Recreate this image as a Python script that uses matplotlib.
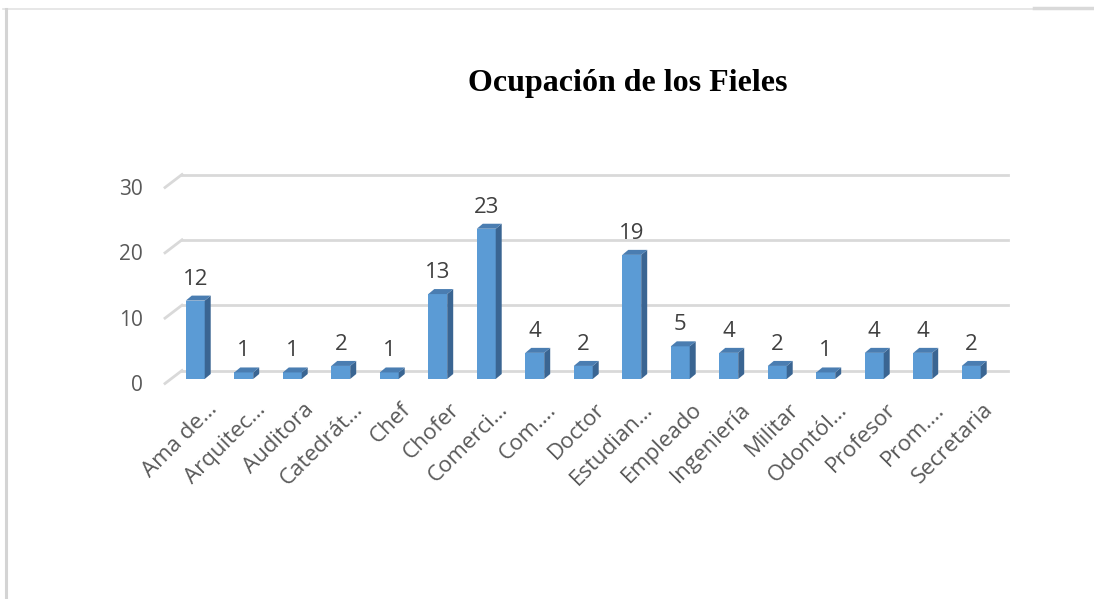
import matplotlib
matplotlib.use("Agg")
import matplotlib.pyplot as plt
from matplotlib.patches import Polygon
from matplotlib.lines import Line2D
from matplotlib.transforms import IdentityTransform

categories = ["Ama de…", "Arquitec…", "Auditora", "Catedrát…", "Chef", "Chofer",
              "Comerci…", "Com….", "Doctor", "Estudian…", "Empleado", "Ingeniería",
              "Militar", "Odontól…", "Profesor", "Prom….", "Secretaria"]
values = [12, 1, 1, 2, 1, 13, 23, 4, 2, 19, 5, 4, 2, 1, 4, 4, 2]
yticks = [0, 10, 20, 30]
title = "Ocupación de los Fieles"

W, H = 1094, 599
fig = plt.figure(figsize=(W / 100, H / 100), dpi=100)
fig.patch.set_facecolor("white")

left_px, right_px = 171, 995.5
bottom_px, top_px = 379, 183
ax = fig.add_axes([left_px / W, (H - bottom_px) / H, (right_px - left_px) / W,
                   (bottom_px - top_px) / H])
ax.set_xlim(-0.5, len(categories) - 0.5)
ax.set_ylim(0, 30)
ax.axis("off")

ID = IdentityTransform()
def disp(x, y):
    return ax.transData.transform((x, y))

# outer frame lines
fig.add_artist(Line2D([3, W], [H - 9, H - 9], transform=ID, color="#E3E3E3", lw=1.2))
fig.add_artist(Line2D([6, 6], [0, H - 9], transform=ID, color="#D4D4D4", lw=2.2))
fig.add_artist(Line2D([1034, W], [H - 7.5, H - 7.5], transform=ID, color="#D9D9D9", lw=2.5))

grid_c = "#D9D9D9"
label_c = "#595959"
x0 = disp(-0.5, 0)[0]
x1 = disp(len(categories) - 0.5, 0)[0]
for v in yticks:
    yf = disp(0, v)[1]
    ax.add_line(Line2D([x0 + 11, x1 + 12.5], [yf + 8.5, yf + 8.5], transform=ID,
                       color=grid_c, lw=2, zorder=1, clip_on=False))
    ax.add_line(Line2D([x0 - 6, x0 + 11], [yf - 4.5, yf + 8.5], transform=ID,
                       color=grid_c, lw=2, zorder=1, clip_on=False))
    fig.text(143 / W, (yf - 6.5) / H, str(v), ha="right", va="center",
             fontsize=15, color=label_c, family="Open Sans")

bw = 0.39
dx, dy = 6, 5
front_c = "#5B9BD5"
side_c = "#3A6592"
top_c = "#4A7DB1"
for i, v in enumerate(values):
    ax.bar(i, v, width=bw, color=front_c, zorder=3, edgecolor="none")
    (xl, yb) = disp(i - bw / 2, 0)
    (xr, yt) = disp(i + bw / 2, v)
    side = Polygon([[xr, yb], [xr + dx, yb + dy], [xr + dx, yt + dy], [xr, yt]],
                   closed=True, transform=ID, facecolor=side_c, edgecolor="none",
                   zorder=3, clip_on=False)
    top = Polygon([[xl, yt], [xl + dx, yt + dy], [xr + dx, yt + dy], [xr, yt]],
                  closed=True, transform=ID, facecolor=top_c, edgecolor="none",
                  zorder=3, clip_on=False)
    ax.add_patch(side)
    ax.add_patch(top)
    xc = disp(i, v)[0]
    fig.text(xc / W, (yt + 16) / H, str(v), ha="center", va="baseline",
             fontsize=16, color="#404040", family="Open Sans")
    fig.text((xc + 11) / W, (H - 399) / H, categories[i], ha="right", va="top",
             rotation=45, rotation_mode="anchor", fontsize=16, color=label_c,
             family="Open Sans")

fig.text(627.5 / W, (H - 91) / H, title, ha="center", va="baseline",
         fontsize=23, fontweight="bold", family="Liberation Serif", color="black")

fig.savefig("out.png", dpi=100)
